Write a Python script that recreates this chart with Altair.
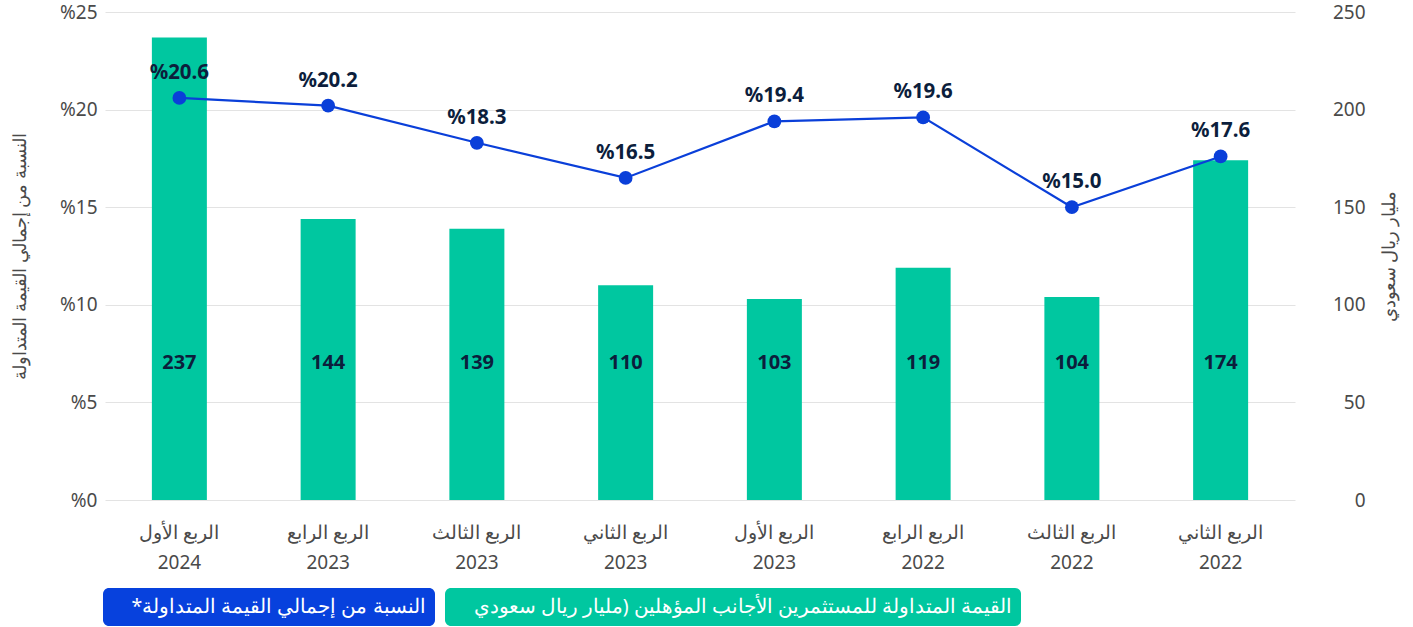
import altair as alt
import pandas as pd

quarters = ["الربع الأول", "الربع الرابع", "الربع الثالث", "الربع الثاني",
            "الربع الأول", "الربع الرابع", "الربع الثالث", "الربع الثاني"]
years = ["2024", "2023", "2023", "2023", "2023", "2022", "2022", "2022"]
values = [237, 144, 139, 110, 103, 119, 104, 174]
pct = [20.6, 20.2, 18.3, 16.5, 19.4, 19.6, 15.0, 17.6]

bar_series = "القيمة المتداولة للمستثمرين الأجانب المؤهلين (مليار ريال سعودي"
line_series = "النسبة من إجمالي القيمة المتداولة*\u200f"
left_title = "النسبة من إجمالي القيمة المتداولة"
right_title = "مليار ريال سعودي"

GREEN = "#00c7a0"
BLUE = "#0a3fd9"
DARK = "#0c1e3c"
GREY = "#4a4a4a"
FONT = "Noto Sans"

periods = [f"{q}|{y}" for q, y in zip(quarters, years)]
df = pd.DataFrame({
    "period": periods,
    "value": values,
    "pct": pct,
    "bar_s": [bar_series] * len(values),
    "line_s": [line_series] * len(values),
    "pct_label": ["%" + f"{p:.1f}" for p in pct],
})

x_enc = alt.X("period:N", sort=periods, title=None,
              scale=alt.Scale(paddingInner=0.63, paddingOuter=0.315),
              axis=alt.Axis(labelExpr="split(datum.value, '|')", labelAngle=0,
                            labelFontSize=19, labelColor=GREY, labelLineHeight=30,
                            labelPadding=23, domain=False, ticks=False, labelFont=FONT))

y_bar_scale = alt.Scale(domain=[0, 250], nice=False)
bars = alt.Chart(df).mark_bar(size=55).encode(
    x=x_enc,
    y=alt.Y("value:Q", scale=y_bar_scale, title=right_title,
            axis=alt.Axis(orient="right", values=[0, 50, 100, 150, 200, 250],
                          grid=False, domain=False, ticks=False,
                          labelFontSize=19, labelColor=GREY, labelAlign="right",
                          labelPadding=70, titleAngle=-90, titleFontSize=18,
                          titleFontWeight="normal", titleColor=GREY, titlePadding=33,
                          labelFont=FONT, titleFont=FONT)),
    color=alt.Color("bar_s:N", scale=alt.Scale(domain=[bar_series], range=[GREEN]),
                    legend=alt.Legend(orient="none", legendX=340, legendY=576,
                                      fillColor=GREEN, cornerRadius=6, padding=9,
                                      labelColor="white", labelFontSize=19.5, labelFont=FONT,
                                      symbolSize=0, symbolOpacity=0, symbolStrokeWidth=0,
                                      labelOffset=0, title=None, labelLimit=0)),
)
bar_text = alt.Chart(df).mark_text(fontSize=20, fontWeight="bold", color=DARK,
                                   font=FONT, baseline="middle").encode(
    x=alt.X("period:N", sort=periods),
    y=alt.datum(70),
    text=alt.Text("value:Q"),
)
bar_layer = alt.layer(bars, bar_text)

y_pct = alt.Y("pct:Q", scale=alt.Scale(domain=[0, 25], nice=False), title=left_title,
              axis=alt.Axis(orient="left", values=[0, 5, 10, 15, 20, 25],
                            labelExpr="'%' + datum.value", grid=True, gridColor="#e3e3e3",
                            domain=False, ticks=False, labelFontSize=19, labelColor=GREY,
                            labelPadding=8, titleFontSize=18, titleFontWeight="normal",
                            titleColor=GREY, titlePadding=30, labelFont=FONT, titleFont=FONT))

line = alt.Chart(df).mark_line(strokeWidth=2.2).encode(
    x=alt.X("period:N", sort=periods),
    y=y_pct,
    stroke=alt.Stroke("line_s:N", scale=alt.Scale(domain=[line_series], range=[BLUE]),
                      legend=alt.Legend(orient="none", legendX=-2, legendY=576,
                                        fillColor="#0741dd", cornerRadius=6, padding=9,
                                        labelColor="white", labelFontSize=19.5, labelFont=FONT,
                                        symbolSize=0, symbolOpacity=0, symbolStrokeWidth=0,
                                        labelOffset=0, title=None, labelLimit=0)),
)
points = alt.Chart(df).mark_circle(size=190, opacity=1, color=BLUE).encode(
    x=alt.X("period:N", sort=periods),
    y=alt.Y("pct:Q"),
)
pct_text = alt.Chart(df).mark_text(fontSize=20.5, fontWeight="bold", color=DARK,
                                   font=FONT, dy=-25, baseline="middle").encode(
    x=alt.X("period:N", sort=periods),
    y=alt.Y("pct:Q"),
    text="pct_label:N",
)
line_layer = alt.layer(line, points, pct_text)

chart = alt.layer(bar_layer, line_layer).resolve_scale(
    y="independent", color="independent"
).properties(
    width=1190, height=488,
    padding={"left": 105, "top": 12, "right": 118, "bottom": 127},
    autosize=alt.AutoSizeParams(type="none"),
).configure_view(stroke=None)

chart.save("out.html", embed_options={"renderer": "svg", "actions": False})
